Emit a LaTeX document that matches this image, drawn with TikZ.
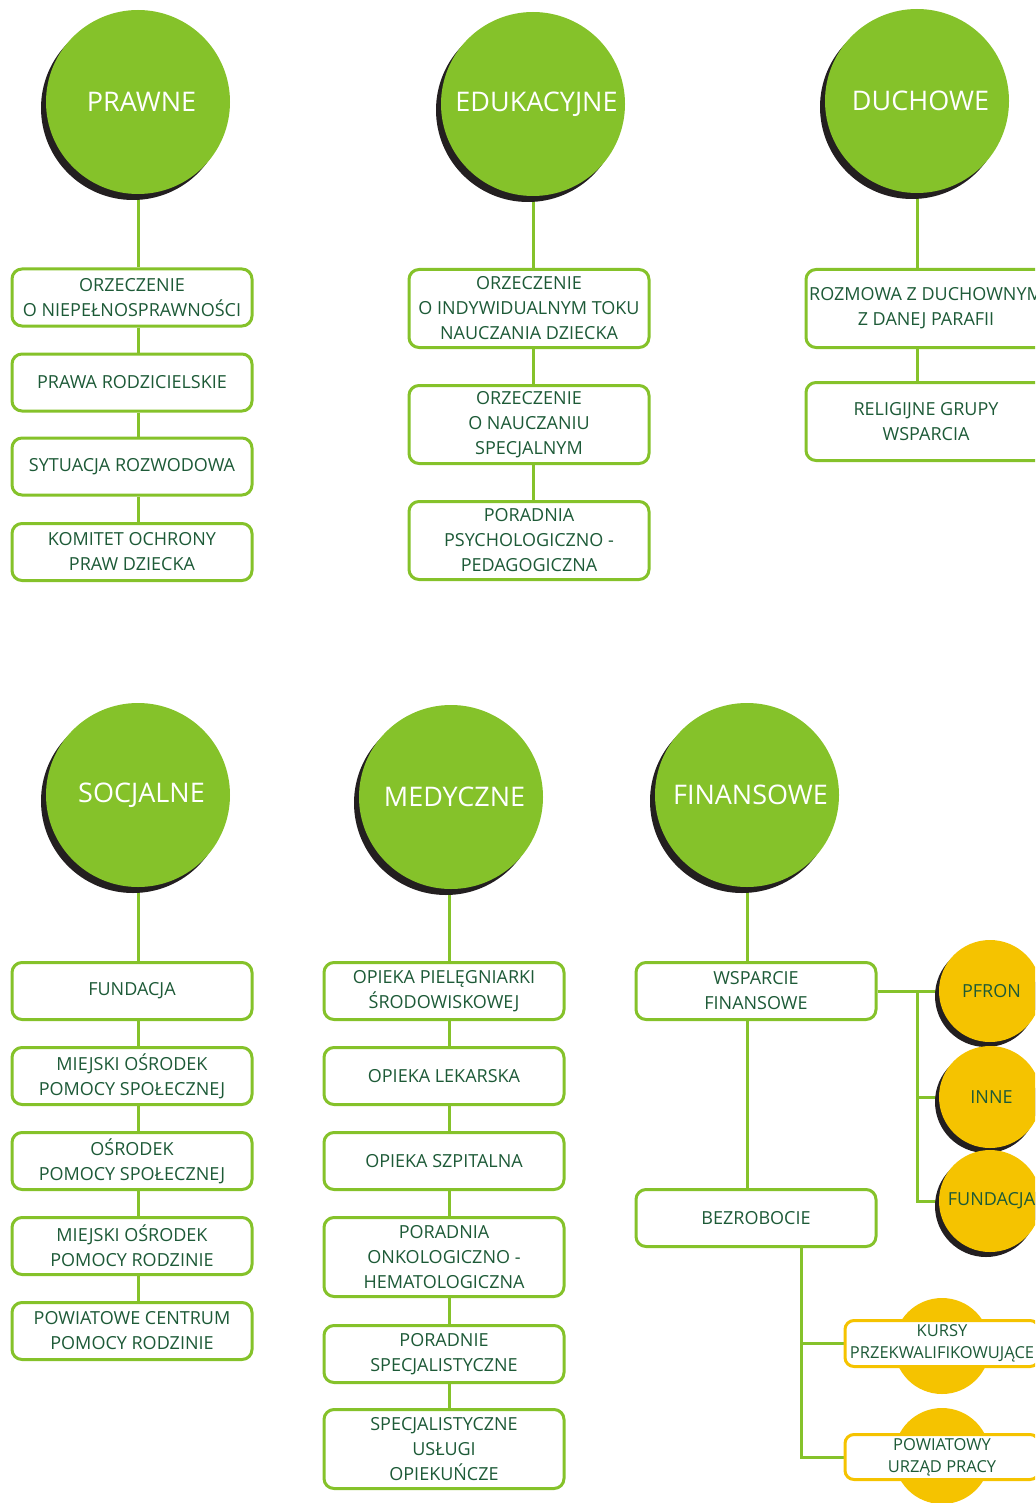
\documentclass[tikz,border=0pt]{standalone}
\usepackage{fontspec}
\setmainfont{Open Sans}
\usetikzlibrary{shadows,backgrounds}
\definecolor{leaf}{HTML}{85C22A}
\definecolor{sun}{HTML}{F5C300}
\definecolor{ink}{HTML}{1D5A37}
\definecolor{shade}{HTML}{231F20}
\newcommand{\topictext}[1]{\hspace*{7pt}#1}
\tikzset{
  topic/.style={circle, fill=leaf, minimum size=184pt, inner sep=0pt, text=white,
    font=\fontsize{27}{30}\selectfont,
    drop shadow={shadow xshift=-5pt, shadow yshift=-6pt, fill=shade, opacity=1}},
  item/.style={draw=leaf, line width=3pt, fill=white, rounded corners=10pt,
    minimum width=240pt, inner sep=0pt, text=ink, align=center,
    font=\fontsize{18}{25}\selectfont},
  coin/.style={circle, fill=sun, minimum size=102pt, inner sep=0pt, text=ink,
    font=\fontsize{18}{22}\selectfont,
    drop shadow={shadow xshift=-4pt, shadow yshift=-5pt, fill=shade, opacity=1}},
  disc/.style={circle, fill=sun, minimum size=96pt, inner sep=0pt},
  tag/.style={draw=sun, line width=3pt, fill=white, rounded corners=9pt,
    minimum width=194pt, inner sep=0pt, text=ink, align=center,
    font=\fontsize{16.5}{22}\selectfont},
  link/.style={draw=leaf, line width=3pt},
}
\begin{document}
\begin{tikzpicture}[x=1pt, y=-1pt]
\useasboundingbox (0,0) rectangle (1035,1503);
\clip (0,0) rectangle (1035,1503);

% ---- top row: main topics ----
\node[topic] (pr) at (138,102) {\topictext{PRAWNE}};
\node[topic] (ed) at (533,104) {\topictext{EDUKACYJNE}};
\node[topic] (du) at (917,101) {\topictext{DUCHOWE}};

% PRAWNE
\node[item, minimum height=57pt] (pr1) at (132,297.5) {ORZECZENIE\\O NIEPEŁNOSPRAWNOŚCI};
\node[item, minimum height=57pt] (pr2) at (132,382.5) {PRAWA RODZICIELSKIE};
\node[item, minimum height=57pt] (pr3) at (132,466.5) {SYTUACJA ROZWODOWA};
\node[item, minimum height=57pt] (pr4) at (132,552) {KOMITET OCHRONY\\PRAW DZIECKA};

% EDUKACYJNE
\node[item, minimum height=78pt] (ed1) at (529,308.5) {ORZECZENIE\\O INDYWIDUALNYM TOKU\\NAUCZANIA DZIECKA};
\node[item, minimum height=78pt] (ed2) at (529,424.5) {ORZECZENIE\\O NAUCZANIU\\SPECJALNYM};
\node[item, minimum height=78pt] (ed3) at (529,540.5) {PORADNIA\\PSYCHOLOGICZNO -\\PEDAGOGICZNA};

% DUCHOWE
\node[item, minimum height=78pt] (du1) at (926,308.5) {ROZMOWA Z DUCHOWNYM\\Z DANEJ PARAFII};
\node[item, minimum height=78pt] (du2) at (926,421.5) {RELIGIJNE GRUPY\\WSPARCIA};

% ---- bottom row: main topics ----
\node[topic] (so) at (138,795) {\topictext{SOCJALNE}};
\node[topic] (me) at (451,797) {\topictext{MEDYCZNE}};
\node[topic] (fi) at (747,795) {\topictext{FINANSOWE}};

% SOCJALNE
\node[item, minimum height=57pt] (so1) at (132,991) {FUNDACJA};
\node[item, minimum height=57pt] (so2) at (132,1076) {MIEJSKI OŚRODEK\\POMOCY SPOŁECZNEJ};
\node[item, minimum height=57pt] (so3) at (132,1161) {OŚRODEK\\POMOCY SPOŁECZNEJ};
\node[item, minimum height=57pt] (so4) at (132,1246) {MIEJSKI OŚRODEK\\POMOCY RODZINIE};
\node[item, minimum height=57pt] (so5) at (132,1331) {POWIATOWE CENTRUM\\POMOCY RODZINIE};

% MEDYCZNE
\node[item, minimum height=57pt] (me1) at (444,991) {OPIEKA PIELĘGNIARKI\\ŚRODOWISKOWEJ};
\node[item, minimum height=57pt] (me2) at (444,1076) {OPIEKA LEKARSKA};
\node[item, minimum height=57pt] (me3) at (444,1161) {OPIEKA SZPITALNA};
\node[item, minimum height=79pt] (me4) at (444,1257) {PORADNIA\\ONKOLOGICZNO -\\HEMATOLOGICZNA};
\node[item, minimum height=57pt] (me5) at (444,1354) {PORADNIE\\SPECJALISTYCZNE};
\node[item, minimum height=79pt] (me6) at (444,1449) {SPECJALISTYCZNE\\USŁUGI\\OPIEKUŃCZE};

% FINANSOWE
\node[item, minimum height=57pt] (fi1) at (756,991) {WSPARCIE\\FINANSOWE};
\node[item, minimum height=57pt] (fi2) at (756,1218) {BEZROBOCIE};

\node[coin] (pf) at (990,991) {\hspace*{3pt}PFRON};
\node[coin] (in) at (990,1097) {\hspace*{3pt}INNE};
\node[coin] (fu) at (990,1201) {\hspace*{3pt}FUNDACJA};

\node[disc] (kd) at (942,1346) {};
\node[disc] (ud) at (942,1456) {};
\node[tag, minimum height=46pt] (ku) at (942,1343.5) {KURSY\\PRZEKWALIFIKOWUJĄCE};
\node[tag, minimum height=45pt] (up) at (942,1457) {POWIATOWY\\URZĄD PRACY};

% ---- connectors, kept behind the circles and boxes ----
\coordinate (mx) at ([xshift=-2pt]me.center);
\coordinate (fork) at ([xshift=40pt]fi1.east);
\coordinate (drop) at ([xshift=45pt]fi2.south);
\begin{pgfonlayer}{background}
\draw[link] (pr.center) -- (pr1.north -| pr.center);
\foreach \a/\b in {pr1/pr2, pr2/pr3, pr3/pr4}
  \draw[link] (\a.south -| pr.center) -- (\b.north -| pr.center);

\draw[link] (ed.center) -- (ed1.north -| ed.center);
\foreach \a/\b in {ed1/ed2, ed2/ed3}
  \draw[link] (\a.south -| ed.center) -- (\b.north -| ed.center);

\draw[link] (du.center) -- (du1.north -| du.center);
\draw[link] (du1.south -| du.center) -- (du2.north -| du.center);

\draw[link] (so.center) -- (so1.north -| so.center);
\foreach \a/\b in {so1/so2, so2/so3, so3/so4, so4/so5}
  \draw[link] (\a.south -| so.center) -- (\b.north -| so.center);

\draw[link] (mx) -- (me1.north -| mx);
\foreach \a/\b in {me1/me2, me2/me3, me3/me4, me4/me5, me5/me6}
  \draw[link] (\a.south -| mx) -- (\b.north -| mx);

\draw[link] (fi.center) -- (fi1.north -| fi.center);
\draw[link] (fi1.south -| fi.center) -- (fi2.north -| fi.center);

\draw[link] (fi1.east) -- (pf.center);
\draw[link] (fork) |- (fu.center);
\draw[link] (fork |- in.center) -- (in.center);

\draw[link] (drop) |- (up.west);
\draw[link] (drop |- ku.west) -- (ku.west);
\end{pgfonlayer}
\end{tikzpicture}
\end{document}
